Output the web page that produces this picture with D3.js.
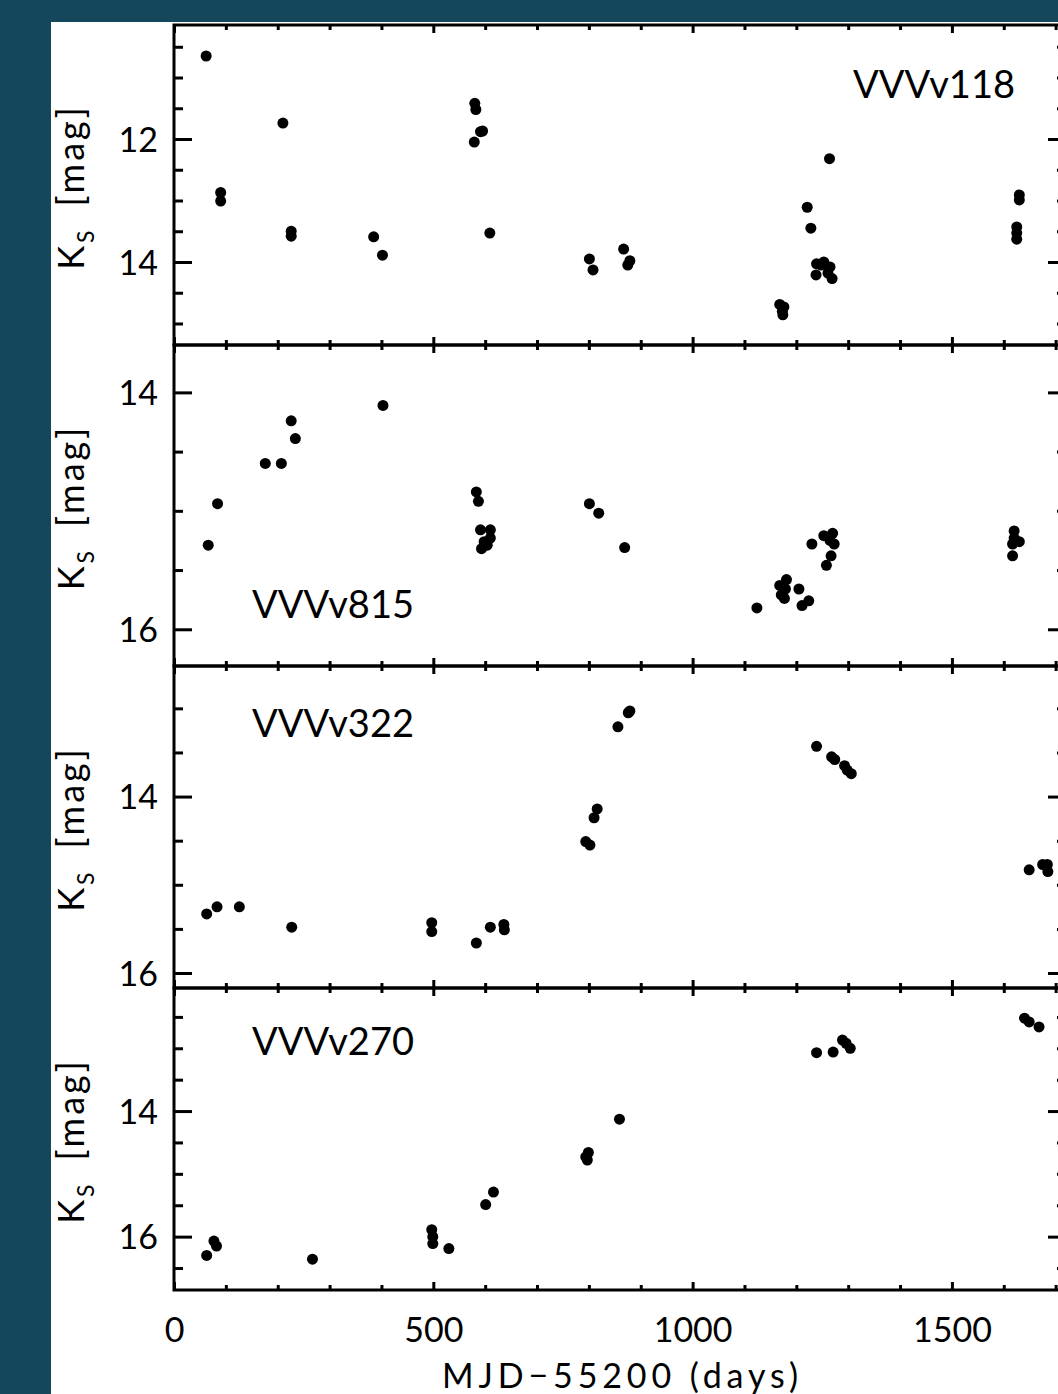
<!DOCTYPE html>
<html>
<head>
<meta charset="utf-8">
<script src="https://cdn.jsdelivr.net/npm/d3@7"></script>
<style>
  html, body { margin: 0; padding: 0; background: #14465c; }
  text { font-family: Lato, "DejaVu Sans", sans-serif; fill: #000; }
</style>
</head>
<body>
<div id="chart-area"></div>
<script>
// light curves, [MJD-55200, Ks]
const v118 = [
  [62,10.65],[210,11.74],[90,12.87],[90,13.01],[226,13.50],[226,13.58],[385,13.59],[402,13.89],
  [580,11.42],[582,11.52],[595,11.87],[591,11.88],[579,12.05],[609,13.53],
  [801,13.95],[808,14.13],[867,13.79],[879,13.98],[875,14.05],
  [1168,14.69],[1176,14.73],[1174,14.86],[1173,14.80],
  [1221,13.11],[1228,13.45],[1264,12.32],[1239,14.03],[1253,14.00],[1238,14.21],
  [1265,14.08],[1261,14.18],[1269,14.27],[1248,14.05],
  [1630,12.91],[1630,12.99],[1625,13.43],[1625,13.53],[1625,13.63]
];
const v815 = [
  [66,15.29],[84,14.94],[176,14.60],[207,14.60],[226,14.24],[234,14.39],[403,14.11],
  [583,14.84],[587,14.92],[591,15.16],[610,15.16],[593,15.32],[604,15.29],[610,15.23],[598,15.26],
  [801,14.94],[819,15.02],[869,15.31],
  [1124,15.82],[1168,15.63],[1181,15.58],[1171,15.71],[1177,15.74],[1179,15.66],
  [1205,15.66],[1211,15.80],[1224,15.76],
  [1230,15.28],[1253,15.21],[1270,15.19],[1273,15.28],[1267,15.38],[1258,15.46],[1265,15.25],
  [1620,15.17],[1630,15.26],[1617,15.28],[1617,15.38],[1620,15.23]
];
const v322 = [
  [63,15.33],[83,15.25],[126,15.25],[227,15.48],[497,15.43],[497,15.53],
  [583,15.66],[610,15.48],[636,15.45],[637,15.51],
  [794,14.51],[802,14.55],[816,14.14],[810,14.24],
  [856,13.21],[876,13.05],[879,13.03],
  [1239,13.43],[1268,13.55],[1274,13.58],[1293,13.65],[1298,13.70],[1306,13.74],
  [1649,14.83],[1675,14.77],[1684,14.77],[1685,14.85]
];
const v270 = [
  [63,16.30],[77,16.07],[82,16.15],[267,16.36],
  [497,15.89],[499,16.00],[499,16.11],[530,16.19],[601,15.49],[616,15.29],
  [794,14.73],[799,14.66],[797,14.78],[859,14.13],
  [1239,13.07],[1271,13.06],[1289,12.87],[1296,12.92],[1304,13.00],
  [1640,12.52],[1649,12.58],[1668,12.66]
];

const starNames = ["VVVv118", "VVVv815", "VVVv322", "VVVv270"];
const series = [v118, v815, v322, v270];
const magRanges = [[10.146, 15.35], [13.60, 16.31], [12.52, 16.17], [12.04, 16.85]];
const majorMags = [10, 12, 14, 16];
const xTicksMajor = [0, 500, 1000, 1500];
const xTitle = "MJD\u221255200 (days)";

// layout
const width = 1058, height = 1394;
const plotLeft = 174, plotRight = 1066;
const panelTops = [25, 345, 666, 988];
const panelBottoms = [345, 666, 988, 1290];
// where each star name sits: [x, baseline, anchor]
const namePos = [[1015, 98, "end"], [252, 618, "start"], [252, 737, "start"], [252, 1055, "start"]];

const x = d3.scaleLinear().domain([0, 1720]).range([plotLeft, plotRight]);

const svg = d3.select("#chart-area").append("svg")
    .attr("width", width)
    .attr("height", height);

svg.append("rect").attr("width", width).attr("height", height).attr("fill", "#14465c");
svg.append("rect")
    .attr("x", 51).attr("y", 22)
    .attr("width", width - 51).attr("height", height - 22)
    .attr("fill", "#fff");

const minorX = d3.range(0, 1721, 100).filter(d => d % 500 !== 0);

series.forEach((pts, i) => {
    const top = panelTops[i], bottom = panelBottoms[i];
    const y = d3.scaleLinear().domain(magRanges[i]).range([top, bottom]);
    const [lo, hi] = magRanges[i];
    const majors = majorMags.filter(m => m >= lo && m <= hi);
    const minors = d3.range(Math.ceil(lo * 2) / 2, hi, 0.5).filter(m => m % 2 !== 0);

    const g = svg.append("g");

    // y axes, ticks pointing in
    const yMajor = g.append("g")
        .attr("transform", `translate(${plotLeft},0)`)
        .call(d3.axisLeft(y).tickValues(majors).tickSizeInner(-18).tickSizeOuter(0)
            .tickPadding(16).tickFormat(d3.format("d")));
    g.append("g")
        .attr("transform", `translate(${plotLeft},0)`)
        .call(d3.axisLeft(y).tickValues(minors).tickSizeInner(-9).tickSizeOuter(0).tickFormat(""));
    g.append("g")
        .attr("transform", `translate(${plotRight},0)`)
        .call(d3.axisRight(y).tickValues(majors).tickSizeInner(-18).tickSizeOuter(0).tickFormat(""));
    g.append("g")
        .attr("transform", `translate(${plotRight},0)`)
        .call(d3.axisRight(y).tickValues(minors).tickSizeInner(-9).tickSizeOuter(0).tickFormat(""));

    // x axes on top and bottom
    const last = i === series.length - 1;
    g.append("g")
        .attr("transform", `translate(0,${top})`)
        .call(d3.axisTop(x).tickValues(xTicksMajor).tickSizeInner(-8).tickSizeOuter(0).tickFormat(""));
    g.append("g")
        .attr("transform", `translate(0,${top})`)
        .call(d3.axisTop(x).tickValues(minorX).tickSizeInner(-5).tickSizeOuter(0).tickFormat(""));
    g.append("g")
        .attr("transform", `translate(0,${bottom})`)
        .call(d3.axisBottom(x).tickValues(xTicksMajor).tickSizeInner(-8).tickSizeOuter(0)
            .tickPadding(28).tickFormat(last ? d3.format("d") : ""));
    g.append("g")
        .attr("transform", `translate(0,${bottom})`)
        .call(d3.axisBottom(x).tickValues(minorX).tickSizeInner(-5).tickSizeOuter(0).tickFormat(""));

    g.selectAll(".domain").remove();
    g.selectAll(".tick line").attr("stroke", "#000").attr("stroke-width", 3);
    g.selectAll(".tick text")
        .attr("font-family", "Lato, 'DejaVu Sans', sans-serif")
        .attr("font-size", 34)
        .attr("fill", "#000");
    yMajor.selectAll(".tick text").attr("dy", "0.36em");

    // frame
    g.append("rect")
        .attr("x", plotLeft).attr("y", top)
        .attr("width", plotRight - plotLeft).attr("height", bottom - top)
        .attr("fill", "none").attr("stroke", "#000").attr("stroke-width", 3);

    // points
    g.append("g")
        .selectAll("circle")
        .data(pts)
        .join("circle")
            .attr("cx", d => x(d[0]))
            .attr("cy", d => y(d[1]))
            .attr("r", 5.5)
            .attr("fill", "#000");

    // star name
    g.append("text")
        .attr("x", namePos[i][0])
        .attr("y", namePos[i][1])
        .attr("text-anchor", namePos[i][2])
        .attr("font-size", 38)
        .text(starNames[i]);

    // y title
    const yt = g.append("text")
        .attr("transform", `translate(84,${(top + bottom) / 2 + 2}) rotate(-90)`)
        .attr("text-anchor", "middle")
        .attr("font-size", 36)
        .attr("letter-spacing", 3);
    yt.append("tspan").text("K");
    yt.append("tspan").attr("font-size", 23).attr("dy", 10).text("S");
    yt.append("tspan").attr("dy", -10).text("\u2002[mag]");
});

svg.append("text")
    .attr("x", (plotLeft + plotRight) / 2)
    .attr("y", 1388)
    .attr("text-anchor", "middle")
    .attr("font-size", 34)
    .attr("textLength", 356)
    .attr("lengthAdjust", "spacing")
    .text(xTitle);
</script>
</body>
</html>
